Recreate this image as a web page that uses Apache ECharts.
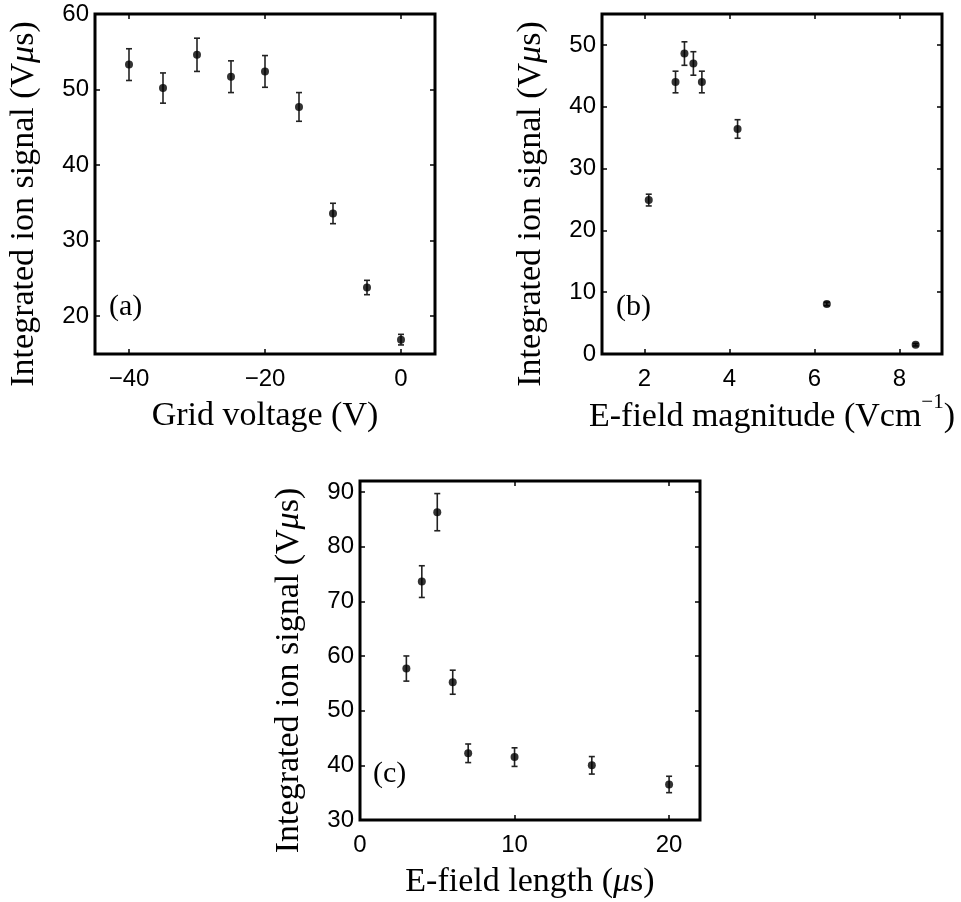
<!DOCTYPE html>
<html>
<head>
<meta charset="utf-8">
<script src="https://cdn.jsdelivr.net/npm/echarts@6/dist/echarts.min.js"></script>
<style>
  html, body { margin: 0; padding: 0; background: #fff; }
  #main { width: 961px; height: 902px; }
</style>
</head>
<body>
<div id="main"></div>
<script>
// (a) signal vs grid voltage
var gridVoltage = [-40, -35, -30, -25, -20, -15, -10, -5, 0];
var signalA = [53.3, 50.2, 54.6, 51.7, 52.4, 47.7, 33.6, 23.8, 16.9];
var errA = [2.1, 2.0, 2.2, 2.1, 2.1, 1.9, 1.35, 0.95, 0.7];

// (b) signal vs E-field magnitude
var fieldMag = [2.1, 2.73, 2.94, 3.15, 3.35, 4.19, 6.29, 8.38];
var signalB = [24.9, 44.0, 48.6, 47.0, 44.0, 36.4, 8.1, 1.5];
var errB = [0.95, 1.75, 1.9, 1.9, 1.75, 1.5, 0.3, 0.2];

// (c) signal vs E-field length
var fieldLen = [3, 4, 5, 6, 7, 10, 15, 20];
var signalC = [57.7, 73.6, 86.3, 55.2, 42.2, 41.5, 40.0, 36.5];
var errC = [2.3, 2.9, 3.4, 2.2, 1.7, 1.7, 1.6, 1.5];

// tick values
var ticksAx = [-40, -20, 0];
var ticksAy = [20, 30, 40, 50, 60];
var ticksBx = [2, 4, 6, 8];
var ticksBy = [0, 10, 20, 30, 40, 50];
var ticksCx = [0, 10, 20];
var ticksCy = [30, 40, 50, 60, 70, 80, 90];

var serif = 'Liberation Serif';
var sans = 'Liberation Sans';

var nameRich = {
  it: { fontFamily: serif, fontSize: 34, fontStyle: 'italic', color: '#000' },
  sup: { fontFamily: serif, fontSize: 21, color: '#000', verticalAlign: 'top', lineHeight: 21 }
};

var panels = [
  { grid: { left: 95, top: 14, width: 340, height: 340 }, xr: [-45, 5], yr: [15, 60],
    xt: ticksAx, yt: ticksAy, xName: 'Grid voltage (V)', xGap: 43, xLine: 38,
    xs: gridVoltage, ys: signalA, es: errA, tag: '(a)', tagPos: [109, 292] },
  { grid: { left: 602, top: 14, width: 340, height: 340 }, xr: [1, 9], yr: [0, 55],
    xt: ticksBx, yt: ticksBy, xName: 'E-field magnitude (Vcm{sup|\u22121})', xGap: 37, xLine: 50,
    xs: fieldMag, ys: signalB, es: errB, tag: '(b)', tagPos: [616, 292] },
  { grid: { left: 360, top: 481, width: 340, height: 340 }, xr: [0, 22], yr: [30, 92],
    xt: ticksCx, yt: ticksCy, xName: 'E-field length ({it|\u03bc}s)', xGap: 43, xLine: 38,
    xs: fieldLen, ys: signalC, es: errC, tag: '(c)', tagPos: [373, 759] }
];

var grids = [], xAxes = [], yAxes = [], series = [], titles = [];

function fmt(v) { return String(v).replace('-', '\u2212'); }

panels.forEach(function (p, i) {
  grids.push(Object.assign({ show: true, borderColor: '#000', borderWidth: 3 }, p.grid));
  var tick = { show: true, inside: true, length: 5, lineStyle: { color: '#000', width: 1.5 } };
  var noLine = { show: false, onZero: false };
  xAxes.push({
    type: 'value', gridIndex: i, position: 'bottom', min: p.xr[0], max: p.xr[1],
    axisLine: noLine, splitLine: { show: false },
    axisTick: Object.assign({ customValues: p.xt }, tick),
    axisLabel: { customValues: p.xt, formatter: fmt, fontFamily: sans, fontSize: 24, color: '#000', margin: 13 },
    name: p.xName, nameLocation: 'middle', nameGap: p.xGap,
    nameTextStyle: { fontFamily: serif, fontSize: 34, lineHeight: p.xLine, color: '#000', rich: nameRich }
  });
  xAxes.push({
    type: 'value', gridIndex: i, position: 'top', min: p.xr[0], max: p.xr[1],
    axisLine: noLine, splitLine: { show: false },
    axisTick: Object.assign({ customValues: p.xt }, tick),
    axisLabel: { show: false }
  });
  yAxes.push({
    type: 'value', gridIndex: i, position: 'left', min: p.yr[0], max: p.yr[1],
    axisLine: noLine, splitLine: { show: false },
    axisTick: Object.assign({ customValues: p.yt }, tick),
    axisLabel: { customValues: p.yt, fontFamily: sans, fontSize: 24, color: '#000', margin: 6 },
    name: 'Integrated ion signal (V{it|\u03bc}s)', nameLocation: 'middle', nameGap: 54,
    nameTextStyle: { fontFamily: serif, fontSize: 34, color: '#000', rich: nameRich, padding: [0, 40, 0, 0] }
  });
  yAxes.push({
    type: 'value', gridIndex: i, position: 'right', min: p.yr[0], max: p.yr[1],
    axisLine: noLine, splitLine: { show: false },
    axisTick: Object.assign({ customValues: p.yt }, tick),
    axisLabel: { show: false }
  });

  var errData = p.xs.map(function (x, k) { return [x, p.ys[k], p.es[k]]; });
  var ptData = p.xs.map(function (x, k) { return [x, p.ys[k]]; });

  series.push({
    type: 'custom', xAxisIndex: i * 2, yAxisIndex: i * 2, data: errData, z: 2,
    renderItem: function (params, api) {
      var x = api.value(0), y = api.value(1), e = api.value(2);
      var top = api.coord([x, y + e]);
      var bot = api.coord([x, y - e]);
      var hw = 3;
      var st = { stroke: '#222', lineWidth: 1.6 };
      return {
        type: 'group',
        children: [
          { type: 'line', shape: { x1: top[0], y1: top[1], x2: bot[0], y2: bot[1] }, style: st },
          { type: 'line', shape: { x1: top[0] - hw, y1: top[1], x2: top[0] + hw, y2: top[1] }, style: st },
          { type: 'line', shape: { x1: bot[0] - hw, y1: bot[1], x2: bot[0] + hw, y2: bot[1] }, style: st }
        ]
      };
    }
  });
  series.push({
    type: 'scatter', xAxisIndex: i * 2, yAxisIndex: i * 2, data: ptData, z: 3,
    symbol: 'circle', symbolSize: 8, itemStyle: { color: '#000' }
  });

  titles.push({
    text: p.tag, left: p.tagPos[0], top: p.tagPos[1], padding: 0,
    textStyle: { fontFamily: serif, fontSize: 30, fontWeight: 'normal', color: '#000' }
  });
});

var chart = echarts.init(document.getElementById('main'));
chart.setOption({
  animation: false,
  backgroundColor: '#fff',
  title: titles,
  grid: grids,
  xAxis: xAxes,
  yAxis: yAxes,
  series: series
});
</script>
</body>
</html>
